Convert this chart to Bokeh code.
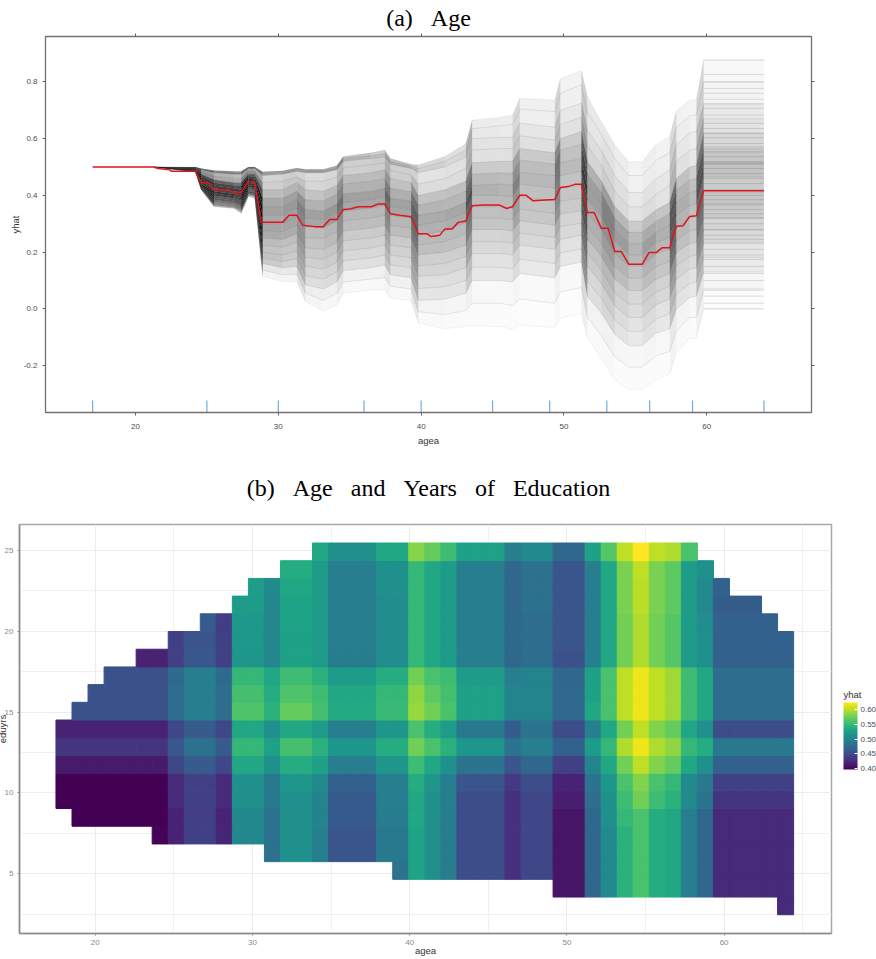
from bokeh.plotting import figure
from bokeh.models import (LinearAxis, FixedTicker, Range1d, LinearColorMapper, ColorBar,
                          ColumnDataSource, PrintfTickFormatter)
from bokeh.palettes import Viridis256
from bokeh.embed import file_html
from bokeh.resources import INLINE
import math

# ---------- panel (a): partial dependence of yhat on agea ----------
pdp_age = [17, 21.25, 21.6, 22.4, 22.5, 24.2, 24.6, 25.1, 25.5, 26.5, 26.85, 27.4, 27.9, 28.35, 28.8, 30.3,
           30.75, 31.3, 31.7, 32.55, 33.15, 33.6, 34.1, 34.55, 35, 35.6, 36.5, 37, 37.45, 37.85, 38.5, 39.3,
           39.8, 40.4, 40.7, 41.31, 41.66, 42.17, 42.59, 43.13, 43.57, 44.34, 45.51, 45.98, 46.4, 46.91, 47.33,
           47.84, 48.66, 49.36, 49.75, 50.29, 50.76, 51.22, 51.64, 52.11, 52.62, 53.09, 53.56, 54.02, 54.54,
           55.47, 55.96, 56.47, 56.89, 57.4, 57.87, 58.34, 58.8, 59.27, 59.78, 64]
pdp_yhat = [.5, .5, .495, .49, .485, .485, .445, .445, .42, .42, .41, .41, .45, .445, .305, .305,
            .33, .33, .295, .29, .29, .315, .315, .35, .352, .36, .36, .37, .37, .335, .33, .325,
            .265, .265, .255, .26, .282, .282, .305, .31, .364, .366, .366, .354, .36, .401, .401,
            .381, .384, .386, .428, .431, .439, .439, .34, .34, .284, .284, .202, .202, .157,
            .157, .199, .199, .216, .216, .291, .293, .326, .328, .416, .416]

ice_age = [21.3, 24.2, 24.6, 25.5, 26.9, 27.4, 27.9, 28.35, 28.9, 30.3, 31.3, 31.9, 33.15, 34.1, 34.55, 36.5,
           37.45, 37.85, 39.3, 39.8, 41.66, 43.13, 43.57, 45.51, 46.4, 46.91, 49.36, 49.75, 51.22, 51.64,
           52.62, 53.56, 54.54, 55.47, 56.47, 57.4, 57.87, 58.8, 59.27, 59.78, 64]
ice_max = [.5, .5, .495, .488, .485, .485, .5, .5, .483, .487, .497, .492, .492, .505, .537, .55, .56, .53, .51, .507,
           .537, .583, .665, .675, .683, .742, .736, .812, .839, .748, .66, .578, .519, .519, .58, .607, .698, .736, .738, .877, .877]
ice_p98 = [.5, .499, .493, .485, .48, .48, .498, .498, .478, .482, .492, .487, .487, .498, .53, .54, .548, .52, .503, .495,
           .52, .56, .635, .645, .65, .705, .695, .76, .79, .695, .615, .53, .47, .47, .525, .55, .64, .68, .685, .80, .80]
ice_p95 = [.5, .498, .49, .48, .475, .475, .495, .495, .47, .475, .485, .48, .48, .49, .52, .53, .535, .51, .495, .48,
           .50, .535, .60, .605, .605, .655, .64, .70, .725, .63, .56, .47, .41, .41, .46, .49, .58, .62, .625, .72, .72]
ice_p90 = [.5, .497, .483, .468, .46, .46, .485, .485, .445, .45, .465, .45, .45, .465, .497, .508, .515, .488, .472, .44,
           .46, .495, .56, .565, .565, .61, .595, .65, .675, .575, .505, .415, .36, .36, .405, .435, .52, .56, .565, .67, .67]
ice_p85 = [.5, .495, .475, .455, .445, .445, .475, .475, .42, .42, .445, .42, .415, .435, .47, .48, .49, .46, .445, .40,
           .42, .45, .515, .52, .52, .565, .55, .60, .625, .52, .45, .36, .31, .31, .35, .375, .46, .50, .505, .62, .62]
ice_p78 = [.5, .492, .468, .445, .435, .432, .468, .465, .39, .39, .415, .385, .38, .405, .44, .45, .46, .425, .413, .365,
           .385, .415, .475, .48, .478, .525, .51, .56, .58, .475, .41, .32, .27, .27, .31, .335, .42, .455, .46, .565, .565]
ice_p70 = [.5, .49, .46, .435, .425, .42, .46, .455, .36, .36, .385, .35, .345, .37, .405, .415, .425, .39, .38, .33,
           .345, .375, .435, .44, .435, .48, .47, .515, .53, .43, .37, .28, .23, .23, .27, .295, .375, .41, .415, .515, .515]
ice_p60 = [.5, .487, .45, .425, .415, .41, .452, .447, .33, .33, .355, .32, .315, .34, .375, .385, .395, .36, .35, .295,
           .31, .34, .40, .40, .395, .44, .425, .47, .485, .385, .325, .24, .19, .19, .235, .25, .33, .365, .37, .465, .465]
ice_p50 = [.5, .485, .44, .415, .405, .40, .445, .44, .30, .30, .325, .29, .285, .31, .345, .355, .365, .33, .32, .26,
           .275, .305, .36, .36, .355, .395, .38, .425, .435, .335, .28, .195, .15, .15, .195, .21, .285, .32, .325, .41, .41]
ice_p40 = [.5, .485, .435, .408, .397, .39, .437, .432, .275, .272, .295, .252, .248, .272, .31, .32, .33, .295, .285, .225,
           .237, .265, .32, .32, .315, .352, .337, .38, .39, .29, .232, .15, .108, .108, .15, .168, .242, .275, .28, .365, .365]
ice_p30 = [.5, .485, .43, .40, .39, .38, .43, .425, .25, .245, .265, .215, .21, .235, .275, .285, .295, .26, .25, .19,
           .20, .225, .28, .28, .275, .31, .295, .335, .345, .245, .185, .105, .065, .065, .105, .125, .20, .23, .235, .32, .32]
ice_p22 = [.5, .484, .428, .392, .382, .372, .422, .418, .225, .217, .235, .182, .175, .2, .24, .25, .26, .225, .215, .152,
           .16, .185, .237, .237, .232, .267, .252, .29, .302, .197, .137, .057, .017, .017, .06, .08, .152, .185, .19, .277, .277]
ice_p15 = [.5, .484, .425, .385, .375, .365, .415, .41, .20, .19, .205, .15, .14, .165, .205, .215, .225, .19, .18, .115,
           .12, .145, .195, .195, .19, .225, .21, .245, .26, .15, .09, .01, -.03, -.03, .015, .035, .105, .14, .145, .235, .235]
ice_p10 = [.5, .483, .423, .378, .367, .357, .41, .405, .18, .167, .177, .117, .105, .13, .17, .18, .19, .155, .145, .072,
           .078, .10, .147, .147, .142, .175, .16, .197, .212, .097, .037, -.04, -.08, -.08, -.035, -.017, .052, .09, .095, .182, .182]
ice_p05 = [.5, .483, .422, .37, .36, .35, .405, .40, .16, .145, .15, .085, .07, .095, .135, .145, .155, .12, .11, .03,
           .035, .055, .10, .10, .095, .125, .11, .15, .165, .045, -.015, -.09, -.13, -.13, -.085, -.07, 0, .04, .045, .13, .13]
ice_p02 = [.5, .483, .421, .365, .357, .343, .40, .395, .137, .12, .123, .055, .03, .055, .095, .105, .11, .08, .07, -.01,
           -.02, -.005, .02, .02, .012, .035, .02, .06, .075, -.03, -.095, -.17, -.205, -.205, -.165, -.15, -.078, -.03, -.03, .065, .065]
ice_min = [.5, .483, .42, .36, .354, .336, .395, .39, .114, .096, .096, .026, -.007, .014, .055, .067, .067, .038, .03, -.05,
           -.07, -.062, -.059, -.062, -.072, -.056, -.066, -.033, -.015, -.103, -.174, -.25, -.283, -.283, -.25, -.229, -.156, -.103, -.103, 0, 0]
ice_curves = [ice_max, ice_p98, ice_p95, ice_p90, ice_p85, ice_p78, ice_p70, ice_p60, ice_p50, ice_p40, ice_p30, ice_p22,
              ice_p15, ice_p10, ice_p05, ice_p02, ice_min]
ice_share = [.02, .03, .04, .05, .08, .11, .12, .11, .10, .09, .07, .06, .05, .04, .02, .01]

# flat ends of the individual curves, read between ages 60 and 64
end_levels = [.877, .826, .80, .777, .76, .739, .724, .707, .683, .654, .636, .619, .603, .583, .571, .553, .536, .519,
              .514, .51, .495, .477, .46, .442, .42, .40, .385, .37, .35, .335, .32, .30, .28, .26, .245, .23, .21, .19,
              .175, .15, .125, .10, .07, .045, .02, 0]
rug_age = [17, 25, 30, 36, 40, 45, 49, 53, 56, 59, 64]
x_ticks_a = [20, 30, 40, 50, 60]
y_ticks_a = [-0.2, 0.0, 0.2, 0.4, 0.6, 0.8]

# ---------- panel (b): yhat over agea and eduyrs ----------
# Each row holds one value per run of age columns; the runs have these lengths:
col_runs = [7, 1, 2, 1, 2, 1, 2, 1, 3, 2, 1, 1, 1, 3, 1, 2, 2, 1, 1, 1, 1, 1, 1, 1, 1, 5]
N = None
r20 = [N, N, N, N, N, N, N, 525, 505, 525, 572, 560, 545, 520, 490, 500, 470, 520, 555, 590, 610, 590, 585, 550, N, N]
r19 = [N, N, N, N, N, N, 530, 515, 490, 505, 540, 525, 515, 490, 470, 478, 455, 490, 525, 568, 590, 568, 558, 515, 505, N]
r18 = [N, N, N, N, 517, 500, 525, 515, 490, 505, 540, 525, 515, 490, 470, 478, 455, 490, 525, 568, 588, 568, 558, 515, 500, 465]
r17 = [N, N, N, N, 515, 498, 522, 515, 490, 503, 540, 525, 515, 490, 470, 478, 455, 490, 525, 568, 588, 568, 558, 515, 500, 462]
r16 = [N, N, 460, 438, 512, 497, 522, 515, 490, 503, 540, 525, 515, 490, 470, 475, 455, 490, 525, 565, 585, 565, 555, 515, 503, 465]
r15 = [N, 440, 455, 440, 512, 497, 520, 515, 490, 503, 540, 525, 515, 490, 470, 475, 455, 490, 525, 565, 585, 565, 555, 515, 505, 465]
r14 = [420, 440, 457, 440, 510, 497, 520, 515, 488, 503, 540, 525, 515, 490, 470, 475, 452, 490, 525, 565, 585, 565, 555, 515, 505, 465]
r13 = [452, 472, 490, 472, 540, 525, 545, 535, 515, 530, 565, 550, 545, 515, 490, 495, 470, 520, 550, 590, 605, 590, 580, 545, 525, 475]
r12 = [452, 475, 490, 475, 548, 530, 552, 545, 525, 540, 575, 558, 548, 520, 495, 495, 472, 520, 550, 590, 605, 590, 580, 545, 525, 475]
r11 = [452, 475, 490, 475, 552, 535, 560, 548, 528, 542, 578, 565, 550, 520, 495, 495, 472, 525, 550, 590, 605, 590, 580, 545, 525, 475]
r10 = [420, 445, 460, 445, 525, 505, 525, 515, 490, 510, 550, 530, 515, 485, 462, 480, 450, 490, 525, 565, 590, 570, 560, 525, 505, 450]
r9 = [432, 457, 478, 460, 540, 520, 548, 535, 510, 530, 565, 550, 535, 510, 480, 490, 465, 515, 540, 585, 605, 585, 575, 540, 530, 485]
r8 = [415, 445, 460, 445, 525, 505, 530, 520, 490, 510, 545, 525, 505, 480, 455, 470, 440, 495, 525, 565, 590, 570, 560, 525, 505, 465]
r7 = [400, 425, 440, 425, 505, 485, 510, 500, 465, 490, 530, 510, 490, 455, 435, 450, 420, 480, 510, 550, 570, 550, 540, 500, 485, 440]
r6 = [398, 425, 440, 425, 505, 485, 505, 495, 460, 490, 525, 505, 490, 450, 430, 445, 418, 475, 505, 545, 565, 545, 535, 500, 480, 432]
r5 = [398, 420, 440, 420, 498, 480, 505, 495, 460, 488, 525, 505, 488, 450, 430, 445, 412, 470, 505, 540, 550, 530, 525, 490, 470, 425]
r4 = [402, 420, 440, 422, 498, 478, 505, 490, 455, 485, 522, 505, 488, 450, 430, 445, 412, 470, 500, 535, 550, 530, 525, 490, 470, 425]
r3 = [N, N, N, N, N, 478, 505, 490, 455, 485, 522, 505, 488, 450, 430, 445, 412, 470, 500, 535, 550, 530, 525, 490, 470, 425]
r2 = [N, N, N, N, N, N, N, N, N, 480, 522, 505, 488, 450, 430, 445, 412, 470, 500, 535, 550, 530, 525, 490, 470, 425]
r1 = [N, N, N, N, N, N, N, N, N, N, N, N, N, N, N, N, 412, 470, 500, 535, 550, 530, 525, 490, 470, 425]
r0 = [N, N, N, N, N, N, N, N, N, N, N, N, N, N, N, N, N, N, N, N, N, N, N, N, N, 425]
heat_rows = [r0, r1, r2, r3, r4, r5, r6, r7, r8, r9, r10, r11, r12, r13, r14, r15, r16, r17, r18, r19, r20]
row_first_col = [45, 31, 21, 13, 6, 1, 0, 0, 0, 0, 0, 1, 2, 3, 5, 7, 9, 11, 12, 14, 16]
row_end_col = [46] * 16 + [45, 44, 42, 41, 40]
age_first_edge, age_bin = 17.5, 1.02
edu_first_edge, edu_bin = 2.46, 1.095
x_ticks_b = [20, 30, 40, 50, 60]
x_minor_b = [15, 25, 35, 45, 55, 65]
y_ticks_b = [5, 10, 15, 20, 25]
y_minor_b = [2.5, 7.5, 12.5, 17.5, 22.5]
legend_ticks = [0.40, 0.45, 0.50, 0.55, 0.60]

SANS = "Liberation Sans"
SERIF = "Liberation Serif"
GAP = "\u00a0\u00a0\u00a0"

# ---------- figure (a) ----------
Y_PX = 284.0
X_PX = 14.29
p1 = figure(width=876, height=448, frame_width=766, frame_height=376, output_backend="svg", toolbar_location=None,
            x_range=Range1d(13.7, 67.33), y_range=Range1d(-0.365, 0.96),
            min_border_left=45, min_border_right=64, min_border_top=36, min_border_bottom=36,
            x_axis_label="agea", y_axis_label="yhat", margin=(0, 0, 0, 0))
p1.title.text = "(a)" + GAP + "Age"
p1.title.align = "center"
p1.title.text_font = SERIF
p1.title.text_font_size = "24px"
p1.title.text_font_style = "normal"
p1.title.text_color = "#000000"
p1.title.standoff = 5
p1.grid.visible = False
p1.outline_line_color = "#808080"

top_ax = LinearAxis(ticker=FixedTicker(ticks=x_ticks_a), major_label_overrides={t: "" for t in x_ticks_a})
right_ax = LinearAxis(ticker=FixedTicker(ticks=y_ticks_a), major_label_overrides={t: "" for t in y_ticks_a})
p1.add_layout(top_ax, "above")
p1.add_layout(right_ax, "right")
p1.below[0].ticker = FixedTicker(ticks=x_ticks_a)
p1.left[0].ticker = FixedTicker(ticks=y_ticks_a)
p1.left[0].formatter = PrintfTickFormatter(format="%.1f")
for ax in [p1.below[0], p1.left[0], top_ax, right_ax]:
    ax.axis_line_color = "#707070"
    ax.axis_line_width = 1.3
    ax.major_tick_line_color = "#606060"
    ax.major_tick_in = 0
    ax.major_tick_out = 3
    ax.minor_tick_line_color = None
    ax.major_label_text_font = SANS
    ax.major_label_text_font_size = "8px"
    ax.major_label_text_color = "#4d4d4d"
    ax.major_label_standoff = 5
    ax.axis_label_text_font = SANS
    ax.axis_label_text_font_size = "9.5px"
    ax.axis_label_text_font_style = "normal"
    ax.axis_label_text_color = "#333333"
top_ax.major_label_standoff = 0
right_ax.major_label_standoff = 0
p1.left[0].major_label_orientation = "horizontal"
p1.below[0].major_label_standoff = 8
p1.below[0].axis_label_standoff = 3
p1.left[0].axis_label_standoff = 0

# density shading between the read curves: the tighter the band, the darker it prints
xs, ys, al = [], [], []
for j, share in enumerate(ice_share):
    up, lo = ice_curves[j], ice_curves[j + 1]
    for i in range(len(ice_age) - 1):
        h = ((up[i] - lo[i]) + (up[i + 1] - lo[i + 1])) / 2 * Y_PX
        dx = (ice_age[i + 1] - ice_age[i]) * X_PX
        dy = ((up[i + 1] + lo[i + 1]) - (up[i] + lo[i])) / 2 * Y_PX
        perp = max(h * dx / math.hypot(dx, dy), 0.6)
        xs.append([ice_age[i], ice_age[i + 1], ice_age[i + 1], ice_age[i]])
        ys.append([up[i], up[i + 1], lo[i + 1], lo[i]])
        al.append(min(1 - math.exp(-500 * share * 0.065 / perp), 0.97))
p1.patches(xs, ys, fill_color="#000000", fill_alpha=al, line_color=None)
for j, c in enumerate(ice_curves):
    p1.line(ice_age, c, line_color="#000000", line_alpha=0.07 if j in (0, 16) else 0.13, line_width=0.7)
end_src = ColumnDataSource(dict(y=end_levels, x0=[ice_age[-2]] * len(end_levels), x1=[ice_age[-1]] * len(end_levels)))
p1.segment("x0", "y", "x1", "y", source=end_src, line_color="#000000", line_alpha=0.12, line_width=1)
p1.line(pdp_age, pdp_yhat, line_color="#e0141c", line_width=1.5)
rug_y0 = [p1.y_range.start] * len(rug_age)
rug_y1 = [p1.y_range.start + 0.042] * len(rug_age)
p1.segment(rug_age, rug_y0, rug_age, rug_y1, line_color="#6aaee0", line_width=1.2)

# ---------- figure (b) ----------
p2 = figure(width=883, height=510, frame_width=812, frame_height=409, output_backend="svg", toolbar_location=None,
            x_range=Range1d(15.18, 66.83), y_range=Range1d(1.3, 26.6),
            min_border_left=26, min_border_right=45, min_border_top=76, min_border_bottom=25,
            x_axis_label="agea", y_axis_label="eduyrs", margin=(0, 0, 0, -7))
p2.title.text = "\u00a0(b)" + GAP + "Age" + GAP + "and" + GAP + "Years" + GAP + "of" + GAP + "Education"
p2.title.align = "center"
p2.title.text_font = SERIF
p2.title.text_font_size = "24px"
p2.title.text_font_style = "normal"
p2.title.text_color = "#000000"
p2.title.standoff = 47
p2.outline_line_color = "#a8a8a8"
p2.outline_line_width = 1.5
p2.below[0].ticker = FixedTicker(ticks=x_ticks_b, minor_ticks=x_minor_b)
p2.left[0].ticker = FixedTicker(ticks=y_ticks_b, minor_ticks=y_minor_b)
p2.xgrid.ticker = FixedTicker(ticks=x_ticks_b, minor_ticks=x_minor_b)
p2.ygrid.ticker = FixedTicker(ticks=y_ticks_b, minor_ticks=y_minor_b)
for g in [p2.xgrid[0], p2.ygrid[0]]:
    g.grid_line_color = "#ececec"
    g.minor_grid_line_color = "#f0f0f0"
    g.grid_line_width = 1
    g.minor_grid_line_width = 1
for ax in [p2.below[0], p2.left[0]]:
    ax.axis_line_color = "#8c8c8c"
    ax.axis_line_width = 1.5
    ax.major_tick_line_color = "#8c8c8c"
    ax.major_tick_in = 0
    ax.major_tick_out = 2
    ax.minor_tick_line_color = None
    ax.major_label_text_font = SANS
    ax.major_label_text_font_size = "8px"
    ax.major_label_text_color = "#8a8a8a"
    ax.major_label_standoff = 2
    ax.axis_label_text_font = SANS
    ax.axis_label_text_font_size = "9.5px"
    ax.axis_label_text_font_style = "normal"
    ax.axis_label_text_color = "#333333"
p2.left[0].major_label_orientation = "horizontal"
p2.below[0].axis_label_standoff = -3
p2.left[0].axis_label_standoff = -6

heat_mapper = LinearColorMapper(palette=Viridis256, low=400, high=610)
left, right, bottom, top, val = [], [], [], [], []
for r, row in enumerate(heat_rows):
    col = 0
    for run, v in zip(col_runs, row):
        for c in range(col, col + run):
            if v is not None and row_first_col[r] <= c < row_end_col[r]:
                left.append(age_first_edge + c * age_bin)
                right.append(age_first_edge + (c + 1) * age_bin)
                bottom.append(edu_first_edge + r * edu_bin)
                top.append(edu_first_edge + (r + 1) * edu_bin)
                val.append(v)
        col += run
src = ColumnDataSource(dict(left=left, right=right, bottom=bottom, top=top, val=val))
p2.quad(left="left", right="right", bottom="bottom", top="top", source=src,
        fill_color={"field": "val", "transform": heat_mapper},
        line_color={"field": "val", "transform": heat_mapper}, line_width=1)

bar_mapper = LinearColorMapper(palette=Viridis256, low=0.397, high=0.625)
cb = ColorBar(color_mapper=bar_mapper, ticker=FixedTicker(ticks=legend_ticks),
              formatter=PrintfTickFormatter(format="%.2f"),
              width=14, height=67, location=(824, 164), orientation="vertical",
              major_label_text_font=SANS, major_label_text_font_size="8px", major_label_text_color="#4d4d4d",
              major_tick_line_color="#ffffff", major_tick_in=3, major_tick_out=0, minor_tick_line_color=None,
              bar_line_color=None, border_line_color=None, background_fill_color=None,
              label_standoff=3, padding=0, margin=0)
p2.add_layout(cb)

# the legend's heading, set as the one label of a bare axis on the right
LEGEND_HEAD = 16.09
head_ax = LinearAxis(ticker=FixedTicker(ticks=[LEGEND_HEAD]), major_label_overrides={LEGEND_HEAD: "yhat"},
                     axis_line_color=None, major_tick_line_color=None, minor_tick_line_color=None,
                     major_tick_out=0, major_tick_in=0, major_label_standoff=12,
                     major_label_text_font=SANS, major_label_text_font_size="9.5px",
                     major_label_text_color="#333333", major_label_orientation="horizontal")
p2.add_layout(head_ax, "right")

with open("out.html", "w") as f:
    f.write(file_html([p1, p2], INLINE))
